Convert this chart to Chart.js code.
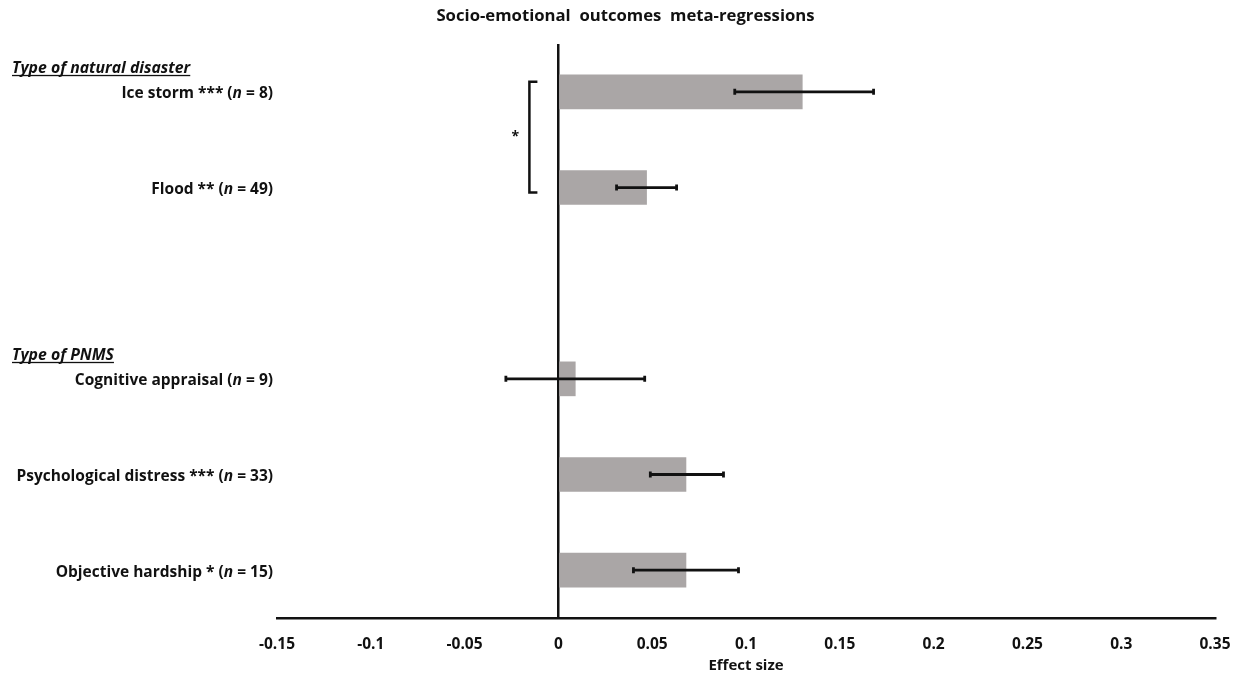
<!DOCTYPE html>
<html>
<head>
<meta charset="utf-8">
<title>Socio-emotional outcomes meta-regressions</title>
<script src="https://cdn.jsdelivr.net/npm/chart.js@4.4.1/dist/chart.umd.min.js"></script>
<style>
  html, body { margin: 0; padding: 0; background: #fff; }
  #chart-holder { width: 1251px; height: 676px; }
</style>
</head>
<body>
<div id="chart-holder"><canvas id="metaCanvas"></canvas></div>
<script>
// — DATA —
const categories = ['Ice storm ***', 'Flood **', '', 'Cognitive appraisal', 'Psychological distress ***', 'Objective hardship *'];
const nCounts    = [8, 49, null, 9, 33, 15];
const effects    = [0.130, 0.047, null, 0.009, 0.068, 0.068];
const ciLow      = [0.094, 0.031, null, -0.028, 0.049, 0.040];
const ciHigh     = [0.168, 0.063, null, 0.046, 0.088, 0.096];
const xTicks     = [-0.15, -0.1, -0.05, 0, 0.05, 0.1, 0.15, 0.2, 0.25, 0.3, 0.35];
const groupHeads = [
  { before: 0, text: 'Type of natural disaster' },
  { before: 3, text: 'Type of PNMS' }
];
// significance bracket between two rows
const bracketRows = [0, 1];
const bracketMark = '*';

const FONT = '"Open Sans", Lato, sans-serif';
const INK  = '#111';

/**
 * Category labels drawn by hand, right-aligned against the plot,
 * so the "n" can be set in italics.
 */
const labelPlugin = {
  id: 'rowLabels',
  afterDraw(chart) {
    const ctx = chart.ctx;
    const y = chart.scales.y;
    const right = chart.chartArea.left - 4;
    ctx.save();
    ctx.fillStyle = INK;
    ctx.textBaseline = 'middle';
    categories.forEach((cat, i) => {
      if (nCounts[i] == null) return;
      const yc = y.getPixelForValue(i) + 2;
      const parts = [
        { t: cat + ' (', f: 'bold 15.5px ' + FONT },
        { t: 'n',        f: 'italic bold 15.5px ' + FONT },
        { t: ' = ' + nCounts[i] + ')', f: 'bold 15.5px ' + FONT }
      ];
      let w = 0;
      parts.forEach(p => { ctx.font = p.f; w += ctx.measureText(p.t).width; });
      let x = right - w;
      ctx.textAlign = 'left';
      parts.forEach(p => {
        ctx.font = p.f;
        ctx.fillText(p.t, x, yc);
        x += ctx.measureText(p.t).width;
      });
    });

    // group headers, italic + underlined
    ctx.font = 'italic bold 15.8px ' + FONT;
    ctx.textBaseline = 'alphabetic';
    groupHeads.forEach(g => {
      const yb = y.getPixelForValue(g.before) - 19;
      ctx.fillText(g.text, 12, yb);
      const w = ctx.measureText(g.text).width;
      ctx.fillRect(12, yb + 2, w, 1.3);
    });
    ctx.restore();
  }
};

/**
 * Confidence-interval whiskers plus the significance bracket.
 */
const whiskerPlugin = {
  id: 'whiskers',
  afterDatasetsDraw(chart) {
    const ctx = chart.ctx;
    const x = chart.scales.x;
    const y = chart.scales.y;
    ctx.save();
    ctx.strokeStyle = INK;
    ctx.lineWidth = 2.8;
    effects.forEach((_, i) => {
      if (ciLow[i] == null) return;
      const yc = y.getPixelForValue(i);
      const x0 = x.getPixelForValue(ciLow[i]);
      const x1 = x.getPixelForValue(ciHigh[i]);
      ctx.beginPath();
      ctx.moveTo(x0, yc); ctx.lineTo(x1, yc);
      ctx.moveTo(x0, yc - 3); ctx.lineTo(x0, yc + 3);
      ctx.moveTo(x1, yc - 3); ctx.lineTo(x1, yc + 3);
      ctx.stroke();
    });

    // bracket
    ctx.lineWidth = 2.5;
    const bx = x.getPixelForValue(0) - 29;
    const top = y.getPixelForValue(bracketRows[0]) - 10;
    const bot = y.getPixelForValue(bracketRows[1]) + 5;
    ctx.beginPath();
    ctx.moveTo(bx + 8, top); ctx.lineTo(bx, top);
    ctx.lineTo(bx, bot); ctx.lineTo(bx + 8, bot);
    ctx.stroke();
    ctx.fillStyle = INK;
    ctx.font = 'bold 14px ' + FONT;
    ctx.textAlign = 'center';
    ctx.textBaseline = 'middle';
    ctx.fillText(bracketMark, bx - 14, (top + bot) / 2);
    ctx.restore();
  }
};

function render_chart() {
  const ctx = document.getElementById('metaCanvas').getContext('2d');

  new Chart(ctx, {
    type: 'bar',
    data: {
      labels: categories,
      datasets: [{
        data: effects,
        backgroundColor: '#aaa6a6',
        borderWidth: 0,
        barThickness: 34
      }]
    },
    options: {
      indexAxis: 'y',
      responsive: true,
      maintainAspectRatio: false,
      animation: false,
      layout: { padding: 0 },
      plugins: {
        legend: { display: false },
        tooltip: { enabled: false },
        title: {
          display: true,
          text: 'Socio-emotional  outcomes  meta-regressions',
          color: INK,
          font: { family: FONT, size: 16.7, weight: 'bold' },
          padding: { top: 6, bottom: 18 }
        }
      },
      scales: {
        x: {
          min: xTicks[0],
          max: xTicks[xTicks.length - 1],
          afterBuildTicks: axis => { axis.ticks = xTicks.map(v => ({ value: v })); },
          afterFit: axis => { axis.height = 58; },
          border: { display: true, color: INK, width: 2.5 },
          grid: {
            drawTicks: false,
            lineWidth: 2.5,
            color: c => (c.tick && c.tick.value === 0 ? INK : 'rgba(0,0,0,0)')
          },
          ticks: {
            color: INK,
            padding: 17,
            maxRotation: 0,
            font: { family: FONT, size: 15.5, weight: 'bold' },
            callback: v => String(parseFloat(Number(v).toFixed(2)))
          },
          title: {
            display: true,
            text: 'Effect size',
            color: INK,
            font: { family: FONT, size: 15, weight: 'bold' },
            padding: { top: 0, bottom: 1 }
          }
        },
        y: {
          display: true,
          afterFit: axis => { axis.width = 277; },
          border: { display: false },
          grid: { display: false },
          ticks: { display: false }
        },
        // empty strip on the right so the plot ends where the original does
        yRight: {
          type: 'category',
          axis: 'y',
          position: 'right',
          display: true,
          afterFit: axis => { axis.width = 36; },
          border: { display: false },
          grid: { display: false },
          ticks: { display: false }
        }
      }
    },
    plugins: [labelPlugin, whiskerPlugin]
  });
}

document.addEventListener('DOMContentLoaded', render_chart);
</script>
</body>
</html>
